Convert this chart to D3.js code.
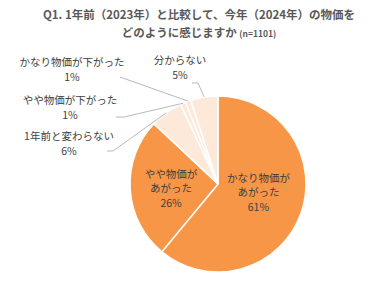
<!DOCTYPE html>
<html>
<head>
<meta charset="utf-8">
<script src="https://cdn.jsdelivr.net/npm/d3@7"></script>
<style>
  body { margin: 0; background: #fff; }
  text { font-family: "Noto Sans CJK JP", "Noto Sans", sans-serif; }
</style>
</head>
<body>
<div id="canvas"></div>
<script>
// data, clockwise from 12 o'clock
var categories = ["かなり物価があがった", "やや物価があがった", "1年前と変わらない", "やや物価が下がった", "かなり物価が下がった", "分からない"];
var values = [61, 26, 6, 1, 1, 5];
var pctLabels = ["61%", "26%", "6%", "1%", "1%", "5%"];
var colors = ["#f79646", "#f79646", "#fde9d9", "#fde9d9", "#fde9d9", "#fde9d9"];

var width = 384, height = 292;
var cx = 218, cy = 184, radius = 88;

var svg = d3.select("#canvas").append("svg")
    .attr("width", width)
    .attr("height", height);

// title
var title = svg.append("text")
    .attr("text-anchor", "middle")
    .attr("fill", "#595959")
    .attr("font-weight", 700)
    .attr("font-size", 11.5);
title.append("tspan").attr("x", 199).attr("y", 19)
    .text("Q1. 1年前（2023年）と比較して、今年（2024年）の物価を");
var t2 = title.append("tspan").attr("x", 199).attr("y", 37);
t2.append("tspan").text("どのように感じますか ");
t2.append("tspan").attr("font-size", 8.5).text("(n=1101)");

var pie = d3.pie().sort(null).value(function(d) { return d; });
var arcs = pie(values);
var arc = d3.arc().innerRadius(0).outerRadius(radius);
var labelArc = d3.arc().innerRadius(radius * 0.5).outerRadius(radius * 0.5);
var edgeArc = d3.arc().innerRadius(radius).outerRadius(radius);

var g = svg.append("g").attr("transform", "translate(" + cx + "," + cy + ")");

g.selectAll("path.slice")
    .data(arcs)
    .enter().append("path")
    .attr("class", "slice")
    .attr("d", arc)
    .attr("fill", function(d, i) { return colors[i]; })
    .attr("stroke", "#fff")
    .attr("stroke-width", 1.5);

// inside labels for the two big slices (dx, dy = nudge from centroid)
var inside = [
    { i: 0, lines: ["かなり物価が", "あがった"], dx: -1, dy: -17 },
    { i: 1, lines: ["やや物価が", "あがった"], dx: -3, dy: -9 }
];
inside.forEach(function(o) {
    var c = labelArc.centroid(arcs[o.i]);
    var t = g.append("text")
        .attr("text-anchor", "middle")
        .attr("fill", "#404040")
        .attr("font-size", 10.5);
    var lines = o.lines.concat([pctLabels[o.i]]);
    lines.forEach(function(s, k) {
        t.append("tspan")
            .attr("x", c[0] + o.dx)
            .attr("y", c[1] + o.dy + k * 14.5)
            .text(s);
    });
});

// outside labels: text centre and leader line start (layout only)
var outside = [
    { i: 5, x: 180, y: 64, lx: [192, 198], ly: [83, 83] },
    { i: 4, x: 72, y: 66, lx: [120], ly: [77] },
    { i: 3, x: 70, y: 104, lx: [116, 124], ly: [117, 117] },
    { i: 2, x: 69, y: 140, lx: [107, 113], ly: [151, 151] }
];
outside.forEach(function(o) {
    var t = svg.append("text")
        .attr("text-anchor", "middle")
        .attr("fill", "#404040")
        .attr("font-size", 10.5);
    t.append("tspan").attr("x", o.x).attr("y", o.y).text(categories[o.i]);
    t.append("tspan").attr("x", o.x).attr("y", o.y + 15).text(pctLabels[o.i]);

    var e = edgeArc.centroid(arcs[o.i]);
    var pts = o.lx.map(function(x, k) { return [x, o.ly[k]]; });
    pts.push([cx + e[0], cy + e[1]]);
    svg.append("path")
        .attr("d", d3.line()(pts))
        .attr("fill", "none")
        .attr("stroke", "#a6a6a6")
        .attr("stroke-width", 0.8);
});
</script>
</body>
</html>
